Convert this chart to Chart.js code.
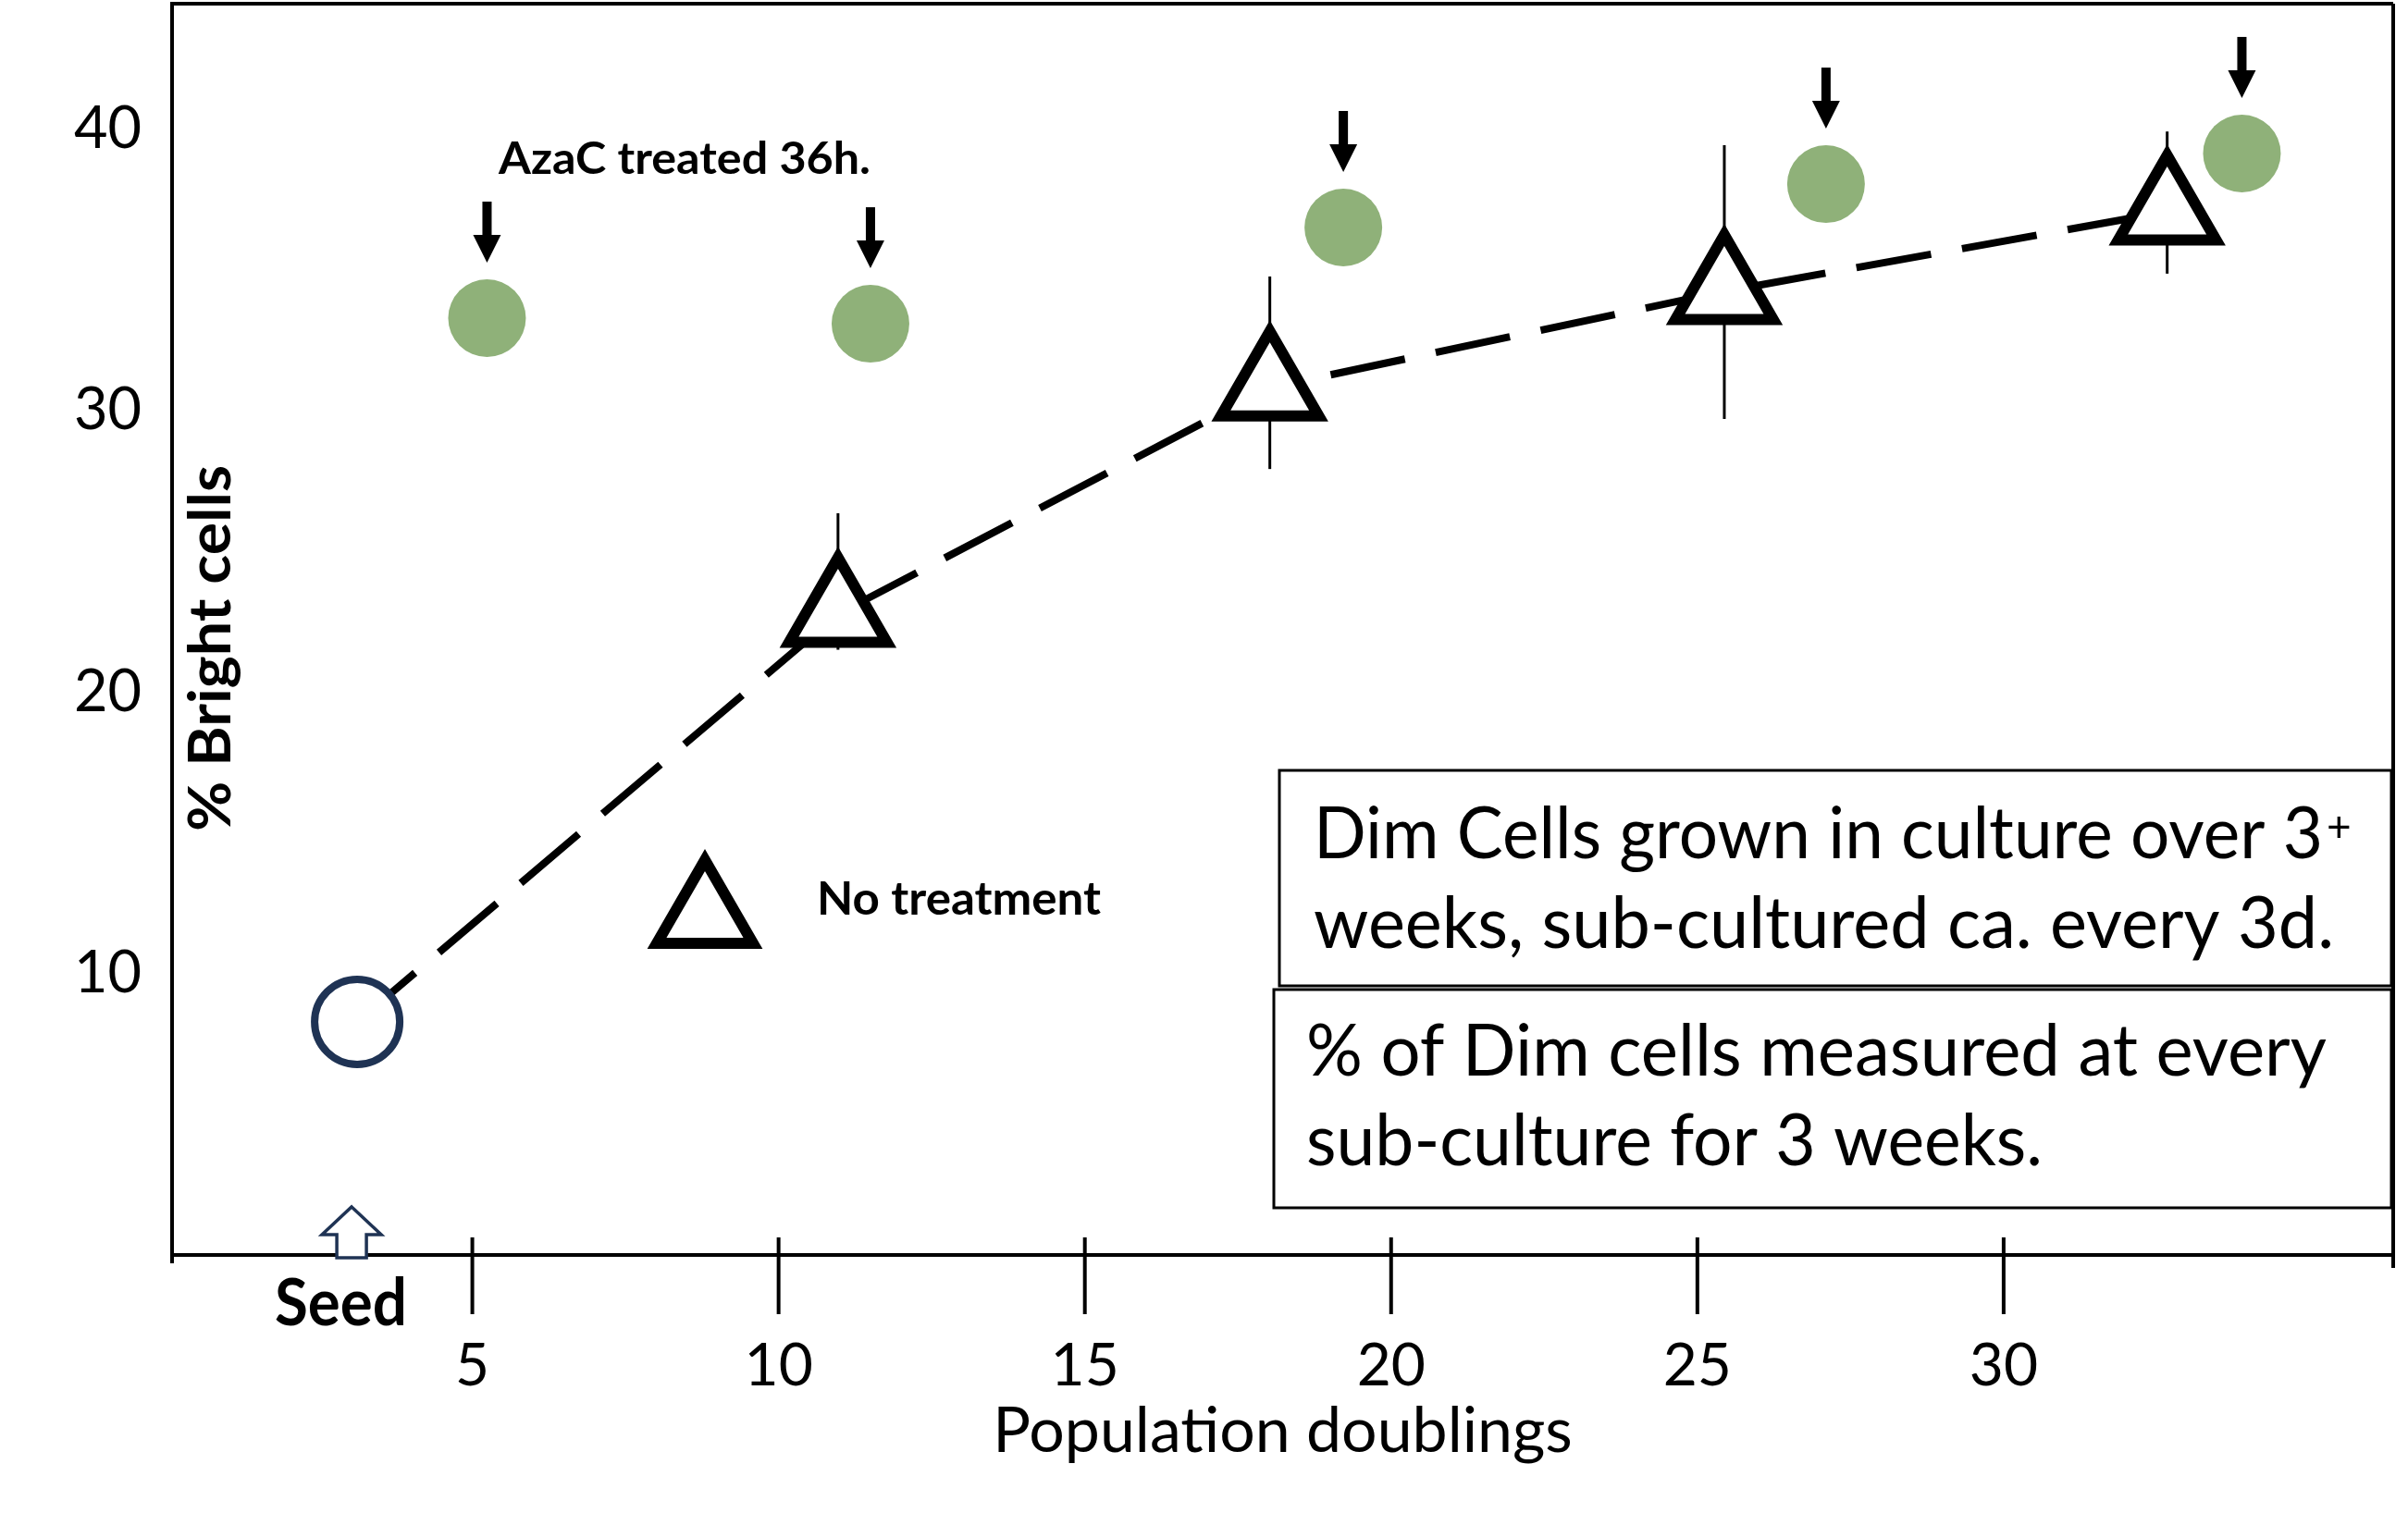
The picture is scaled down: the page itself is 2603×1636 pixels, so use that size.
<!DOCTYPE html>
<html>
<head>
<meta charset="utf-8">
<script src="https://cdn.jsdelivr.net/npm/chart.js@4.4.0/dist/chart.umd.min.js"></script>
<style>
  html, body { margin: 0; padding: 0; background: #fff; }
  canvas { display: block; }
</style>
</head>
<body>
<canvas id="chart" width="2603" height="1636"></canvas>
<script>
// values (x = population doublings, y = % bright cells)
const seedX = [3.12];
const seedY = [8.28];

const noTreatX = [10.97, 18.02, 25.44, 32.67];
const noTreatY = [22.77, 30.81, 34.23, 37.06];
const noTreatLow = [21.5, 27.92, 29.70, 34.86];
const noTreatHigh = [26.35, 34.76, 39.42, 39.91];

const azaX = [5.24, 11.50, 19.22, 27.10, 33.89];
const azaY = [33.28, 33.08, 36.50, 38.04, 39.13];

const xTickValues = [5, 10, 15, 20, 25, 30];
const yTickValues = [10, 20, 30, 40];

const xTitle = 'Population doublings';
const yTitle = '% Bright cells';
const azaLabel = 'AzaC treated 36h.';
const noTreatLabel = 'No treatment';
const seedLabel = 'Seed';
const note1 = ['Dim Cells grown in culture over 3', 'weeks, sub-cultured ca. every 3d.'];
const note2 = ['% of Dim cells measured at every', 'sub-culture for 3 weeks.'];

const NAVY = '#1f3354';
const GREEN = '#8fb179';

Chart.defaults.font.family = 'Lato';
Chart.defaults.color = '#000';

// draws text squeezed to a given width (the original uses a narrower font)
function drawText(ctx, text, x, y, font, width) {
	ctx.save();
	ctx.font = font;
	const w = ctx.measureText(text).width;
	const sx = width ? width / w : 1;
	ctx.translate(x, y);
	ctx.scale(sx, 1);
	ctx.textAlign = 'left';
	ctx.textBaseline = 'alphabetic';
	ctx.fillStyle = '#000';
	ctx.fillText(text, 0, 0);
	ctx.restore();
}

function downArrow(ctx, cx, tipY) {
	const len = 66, shaft = 10, headW = 30, headH = 30;
	ctx.fillRect(cx - shaft / 2, tipY - len, shaft, len - headH + 1);
	ctx.beginPath();
	ctx.moveTo(cx - headW / 2, tipY - headH);
	ctx.lineTo(cx + headW / 2, tipY - headH);
	ctx.lineTo(cx, tipY);
	ctx.closePath();
	ctx.fill();
}

function triangle(ctx, x, y, r) {
	ctx.beginPath();
	for (let k = 0; k < 3; k++) {
		const a = k * 2 * Math.PI / 3;
		const px = x + Math.sin(a) * r, py = y - Math.cos(a) * r;
		if (k === 0) ctx.moveTo(px, py); else ctx.lineTo(px, py);
	}
	ctx.closePath();
}

const extras = {
	id: 'extras',
	beforeDatasetsDraw(chart) {
		const ctx = chart.ctx;
		const xs = chart.scales.x, ys = chart.scales.y;
		ctx.save();
		ctx.strokeStyle = '#000';
		ctx.lineWidth = 3;
		noTreatX.forEach((v, i) => {
			const px = xs.getPixelForValue(v);
			ctx.beginPath();
			ctx.moveTo(px, ys.getPixelForValue(noTreatLow[i]));
			ctx.lineTo(px, ys.getPixelForValue(noTreatHigh[i]));
			ctx.stroke();
		});
		ctx.restore();
	},
	afterDraw(chart) {
		const ctx = chart.ctx;
		const area = chart.chartArea;
		const xs = chart.scales.x;
		ctx.save();

		// frame: top and right sides, y axis running a bit under the x axis
		ctx.strokeStyle = '#000';
		ctx.lineWidth = 4;
		ctx.beginPath();
		ctx.moveTo(area.left, area.top);
		ctx.lineTo(area.right, area.top);
		ctx.moveTo(area.right, area.top);
		ctx.lineTo(area.right, area.bottom + 14);
		ctx.moveTo(area.left, area.bottom);
		ctx.lineTo(area.left, area.bottom + 9);
		ctx.stroke();

		// tick marks crossing the x axis
		ctx.lineWidth = 4;
		xTickValues.forEach(v => {
			const px = xs.getPixelForValue(v);
			ctx.beginPath();
			ctx.moveTo(px, area.bottom - 19);
			ctx.lineTo(px, area.bottom + 64);
			ctx.stroke();
		});

		// arrows over the AzaC points
		ctx.fillStyle = '#000';
		chart.getDatasetMeta(3).data.forEach(el => downArrow(ctx, el.x, el.y - 60));

		// hollow seed arrow
		const sx = chart.getDatasetMeta(1).data[0].x - 6;
		const b = area.bottom;
		ctx.beginPath();
		ctx.moveTo(sx, b - 52);
		ctx.lineTo(sx + 32, b - 22);
		ctx.lineTo(sx + 16, b - 22);
		ctx.lineTo(sx + 16, b + 3);
		ctx.lineTo(sx - 16, b + 3);
		ctx.lineTo(sx - 16, b - 22);
		ctx.lineTo(sx - 32, b - 22);
		ctx.closePath();
		ctx.fillStyle = '#fff';
		ctx.fill();
		ctx.strokeStyle = NAVY;
		ctx.lineWidth = 3.5;
		ctx.stroke();

		// legend triangle
		ctx.lineWidth = 12;
		ctx.strokeStyle = '#000';
		ctx.fillStyle = '#fff';
		triangle(ctx, 762, 990, 60);
		ctx.fill();
		ctx.stroke();

		// labels
		drawText(ctx, azaLabel, 539, 188, 'bold 47px Lato', 402);
		drawText(ctx, noTreatLabel, 883, 989, 'bold 50px Lato', 307);
		drawText(ctx, seedLabel, 297, 1433, 'bold 70px Lato', 143);

		ctx.save();
		ctx.translate(249, 899);
		ctx.rotate(-Math.PI / 2);
		drawText(ctx, yTitle, 0, 0, 'bold 64px Lato', 396);
		ctx.restore();

		// note boxes
		ctx.strokeStyle = '#000';
		ctx.lineWidth = 3;
		ctx.strokeRect(1383, 833, 1202, 233);
		ctx.strokeRect(1377, 1070, 1208, 236);
		drawText(ctx, note1[0], 1420, 928, '77px Lato', 1091);
		drawText(ctx, '+', 2515, 910, '46px Lato', 0);
		drawText(ctx, note1[1], 1420, 1025, '77px Lato', 1103);
		drawText(ctx, note2[0], 1412, 1163, '77px Lato', 1103);
		drawText(ctx, note2[1], 1412, 1260, '77px Lato', 796);

		ctx.restore();
	}
};

const ctx = document.getElementById('chart');
new Chart(ctx, {
	type: 'scatter',
	data: {
		datasets: [
			{
				// dashed trend through seed and untreated points
				data: seedX.concat(noTreatX).map((v, i) => ({ x: v, y: seedY.concat(noTreatY)[i] })),
				showLine: true,
				borderColor: '#000',
				borderWidth: 8,
				borderDash: [82, 34],
				pointRadius: 0,
				order: 4
			},
			{
				data: seedX.map((v, i) => ({ x: v, y: seedY[i] })),
				pointStyle: 'circle',
				pointRadius: 46,
				pointBorderWidth: 8,
				pointBorderColor: NAVY,
				pointBackgroundColor: '#fff',
				order: 2
			},
			{
				data: noTreatX.map((v, i) => ({ x: v, y: noTreatY[i] })),
				pointStyle: 'triangle',
				pointRadius: 61,
				pointBorderWidth: 12,
				pointBorderColor: '#000',
				pointBackgroundColor: '#fff',
				order: 2
			},
			{
				data: azaX.map((v, i) => ({ x: v, y: azaY[i] })),
				pointStyle: 'circle',
				pointRadius: 42,
				pointBorderWidth: 0,
				pointBackgroundColor: GREEN,
				order: 1
			}
		]
	},
	options: {
		responsive: false,
		devicePixelRatio: 1,
		animation: false,
		layout: { autoPadding: false, padding: { left: 0, top: 4, right: 16, bottom: 0 } },
		plugins: { legend: { display: false }, tooltip: { enabled: false } },
		scales: {
			x: {
				type: 'linear',
				min: 0.098,
				max: 36.36,
				afterBuildTicks: scale => { scale.ticks = xTickValues.map(v => ({ value: v })); },
				afterFit: scale => {
					scale.height = 279;
					scale.paddingLeft = scale.paddingRight = scale.paddingTop = scale.paddingBottom = 0;
				},
				grid: { display: false, drawTicks: false },
				border: { display: true, color: '#000', width: 4 },
				ticks: { font: { size: 64 }, color: '#000', padding: 82, maxRotation: 0 },
				title: {
					display: true,
					text: xTitle,
					font: { size: 68 },
					color: '#000',
					padding: { top: 0, bottom: 47 }
				}
			},
			y: {
				type: 'linear',
				min: 0,
				max: 44.45,
				afterBuildTicks: scale => { scale.ticks = yTickValues.map(v => ({ value: v })); },
				afterFit: scale => {
					scale.width = 186;
					scale.paddingLeft = scale.paddingRight = scale.paddingTop = scale.paddingBottom = 0;
				},
				grid: { display: false, drawTicks: false },
				border: { display: true, color: '#000', width: 4 },
				ticks: { font: { size: 63 }, color: '#000', padding: 33 }
			}
		}
	},
	plugins: [extras]
});
</script>
</body>
</html>
